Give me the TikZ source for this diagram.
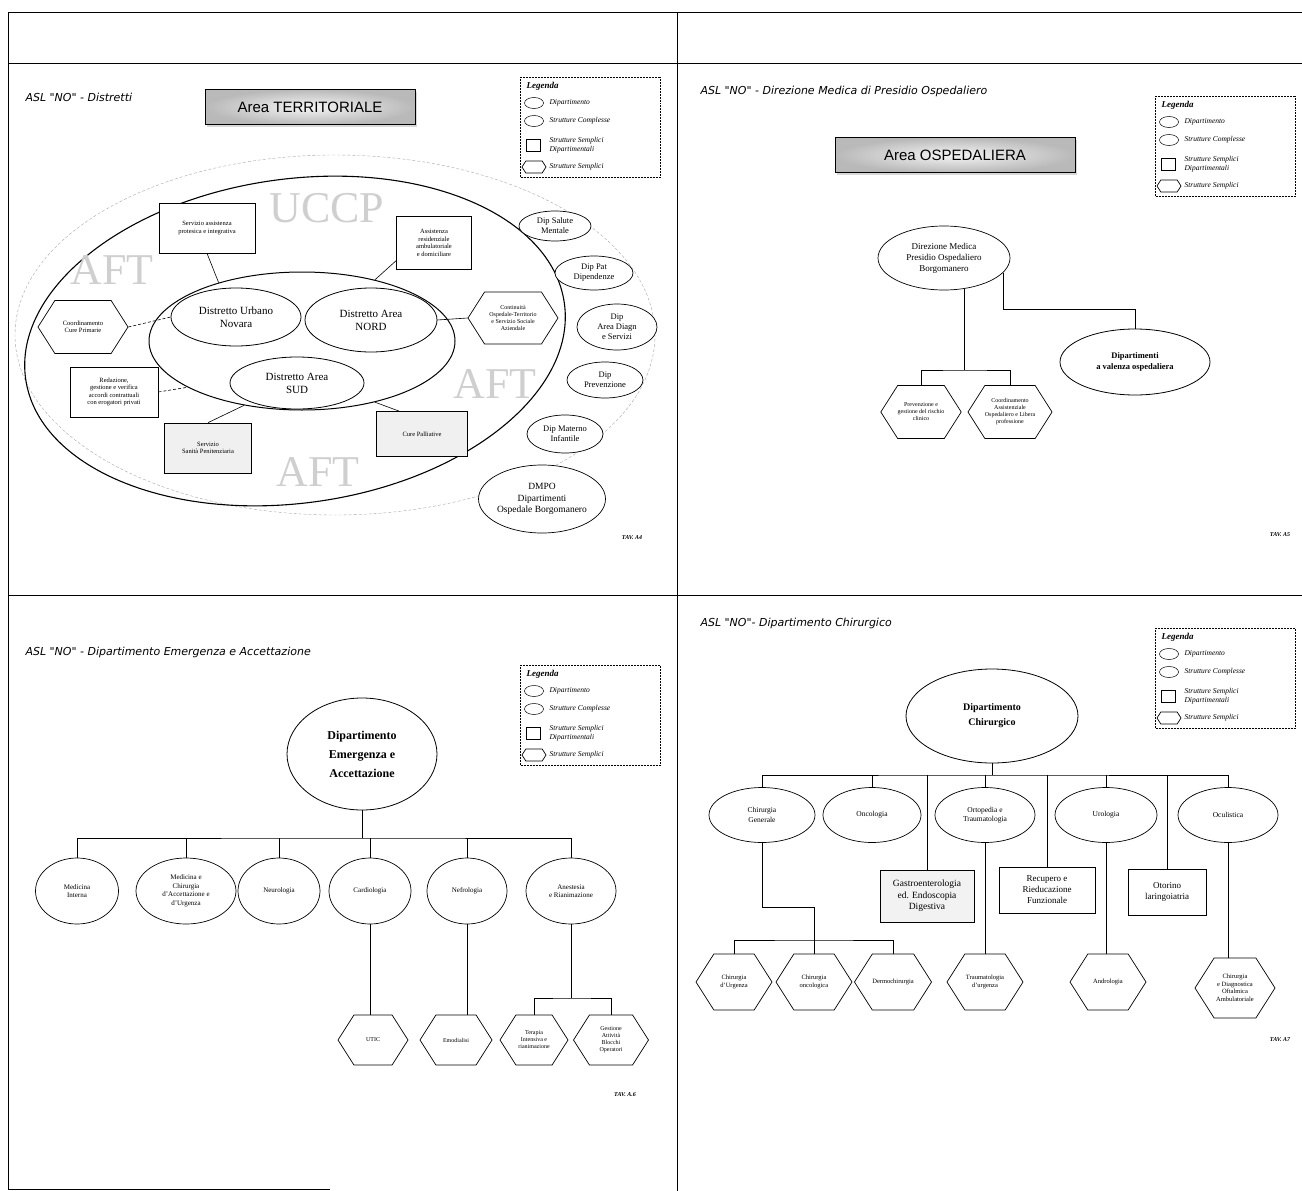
\documentclass[tikz,border=0pt]{standalone}
\usepackage{fontspec}
\setmainfont{Liberation Serif}
\newfontfamily\titlefont{DejaVu Sans}
\newfontfamily\arialfont{Liberation Sans}
\usetikzlibrary{shapes.geometric,shapes.symbols,shadows}

\begin{document}
\begin{tikzpicture}[x=1pt,y=-1pt,
  cornice/.style={line width=0.7pt},
  titolo/.style={anchor=west,font=\titlefont\itshape\fontsize{11}{13}\selectfont},
  tav/.style={font=\itshape\bfseries\fontsize{6}{7}\selectfont},
  areabox/.style={draw,line width=0.8pt,inner color=gray!8,outer color=gray!55,
    drop shadow={shadow xshift=2pt,shadow yshift=-2pt,fill=gray!60},
    font=\arialfont\fontsize{15}{18}\selectfont,minimum height=35},
  dip/.style={ellipse,draw,line width=0.8pt,fill=white,inner sep=0pt,align=center},
  sc/.style={ellipse,draw,line width=0.7pt,fill=white,inner sep=0pt,align=center,
    font=\fontsize{7}{8.5}\selectfont},
  ssd/.style={rectangle,draw,line width=0.7pt,fill=white,inner sep=1pt,align=center,
    font=\fontsize{6.5}{7.5}\selectfont},
  ss/.style={signal,signal to=west and east,signal pointer angle=115,draw,
    line width=0.7pt,fill=white,inner sep=0pt,align=center,font=\fontsize{6}{7}\selectfont},
  conn/.style={line width=0.6pt},
  vuoto/.style={text=gray!38,font=\fontsize{44}{44}\selectfont},
  leg/.style={anchor=west,font=\itshape\fontsize{7.5}{8.5}\selectfont,align=left},
  legenda/.pic={
    \draw[line width=0.5pt,densely dotted] (0,0) rectangle (140,100);
    \node[leg,font=\itshape\bfseries\fontsize{9}{10}\selectfont] (-tit) at (3,9) {Legenda};
    \node[ellipse,draw,line width=0.5pt,minimum width=19,minimum height=11,inner sep=0pt] (-e1) at (14,26) {};
    \node[leg] (-t1) at (26,26) {Dipartimento};
    \node[ellipse,draw,line width=0.5pt,minimum width=19,minimum height=11,inner sep=0pt] (-e2) at (14,44) {};
    \node[leg] (-t2) at (26,44) {Strutture Complesse};
    \node[rectangle,draw,line width=0.5pt,minimum width=14,minimum height=12,inner sep=0pt] (-e3) at (13,68) {};
    \node[leg] (-t3) at (26,68) {Strutture Semplici\\Dipartimentali};
    \node[ss,minimum width=24,minimum height=12] (-e4) at (14,90) {};
    \node[leg] (-t4) at (26,90) {Strutture Semplici};
  }]
  \useasboundingbox (0,0) rectangle (1302,1191);

  % cornice
  \draw[cornice] (8,12) -- (1302,12);
  \draw[cornice] (8,63) -- (1302,63);
  \draw[cornice] (8,595) -- (1302,595);
  \draw[cornice] (8,12) -- (8,1189) -- (330,1189);
  \draw[cornice] (677,12) -- (677,1191);

  % TAV. A4
  \node[titolo] (titA4) at (22,97) {ASL "NO" - Distretti};
  \node[areabox,minimum width=210] (areaT) at (310,107) {Area TERRITORIALE};
  \pic (legA4) at (520,77) {legenda};
  \node[ellipse,draw,gray!70,dash pattern=on 3pt off 2pt,minimum width=640,minimum height=360] (rete) at (335,335) {};
  \node[ellipse,draw,line width=1.1pt,rotate=8,minimum width=544,minimum height=324] (uccp) at (295,341) {};
  \node[vuoto] (tUCCP) at (327,208) {UCCP};
  \node[vuoto] (tAFT1) at (112,270) {AFT};
  \node[vuoto] (tAFT2) at (318,472) {AFT};
  \node[vuoto] (tAFT3) at (495,384) {AFT};
  \node[ellipse,draw,line width=1pt,minimum width=306,minimum height=138] (distretti) at (302,341) {};
  \node[dip,font=\fontsize{11}{13}\selectfont,minimum width=130,minimum height=58] (urbano) at (236,317) {Distretto Urbano\\Novara};
  \node[dip,font=\fontsize{11}{13}\selectfont,minimum width=132,minimum height=64] (nord) at (371,320) {Distretto Area\\NORD};
  \node[dip,font=\fontsize{11}{13}\selectfont,minimum width=134,minimum height=52] (sud) at (297,383) {Distretto Area\\SUD};
  \node[ssd,minimum width=96,minimum height=50] (protesica) at (207,228) {Servizio assistenza\\protesica e integrativa};
  \node[ssd,minimum width=75,minimum height=53] (residenziale) at (434,243) {Assistenza\\residenziale\\ambulatoriale\\e domiciliare};
  \node[ssd,minimum width=88,minimum height=50] (accordi) at (114,392) {Redazione,\\gestione e verifica\\accordi contrattuali\\con erogatori privati};
  \node[ssd,fill=gray!12,minimum width=87,minimum height=50] (penitenziaria) at (208,448) {Servizio\\Sanità Penitenziaria};
  \node[ssd,fill=gray!12,minimum width=91,minimum height=45] (palliative) at (422,434) {Cure Palliative};
  \node[ss,font=\fontsize{6.5}{7.5}\selectfont,minimum width=90,minimum height=53] (cureprimarie) at (83,327) {Coordinamento\\Cure Primarie};
  \node[ss,minimum width=90,minimum height=52] (continuita) at (513,318) {Continuità\\Ospedale-Territorio\\e Servizio Sociale\\Aziendale};
  \node[sc,font=\fontsize{8.5}{10}\selectfont,minimum width=72,minimum height=30] (dipSM) at (555,226) {Dip Salute\\Mentale};
  \node[sc,font=\fontsize{8.5}{10}\selectfont,minimum width=78,minimum height=34] (dipPD) at (594,273) {Dip Pat\\Dipendenze};
  \node[sc,font=\fontsize{8.5}{10}\selectfont,minimum width=80,minimum height=46] (dipAD) at (617,327) {Dip\\Area Diagn\\e Servizi};
  \node[sc,font=\fontsize{8.5}{10}\selectfont,minimum width=76,minimum height=36] (dipPR) at (605,380) {Dip\\Prevenzione};
  \node[sc,font=\fontsize{8.5}{10}\selectfont,minimum width=76,minimum height=38] (dipMI) at (565,434) {Dip Materno\\Infantile};
  \node[sc,font=\fontsize{9.5}{11.5}\selectfont,minimum width=120,minimum height=68] (dmpo) at (542,499) {DMPO\\Dipartimenti\\Ospedale Borgomanero};
  \draw[conn] (protesica.south) -- (distretti.145);
  \draw[conn] (residenziale.205) -- (distretti.40);
  \draw[conn,densely dashed] (cureprimarie.east) -- (urbano.west);
  \draw[conn,densely dashed] (accordi.east) -- (distretti.202);
  \draw[conn] (penitenziaria.north) -- (distretti.228);
  \draw[conn] (palliative.135) -- (distretti.320);
  \draw[conn] (continuita.west) -- (nord.east);
  \node[tav] (tavA4) at (632,538) {TAV. A4};

  % TAV. A5
  \node[titolo] (titA5) at (697,91) {ASL "NO" - Direzione Medica di Presidio Ospedaliero};
  \node[areabox,minimum width=240] (areaO) at (955,155) {Area OSPEDALIERA};
  \pic (legA5) at (1155,96) {legenda};
  \node[sc,font=\fontsize{9}{11}\selectfont,minimum width=132,minimum height=64] (dirmed) at (944,258) {Direzione Medica\\Presidio Ospedaliero\\Borgomanero};
  \node[ss,minimum width=78,minimum height=53] (rischio) at (921,412) {Prevenzione e\\gestione del rischio\\clinico};
  \node[ss,minimum width=82,minimum height=53] (libera) at (1010,412) {Coordinamento\\Assistenziale\\Ospedaliero e Libera\\professione};
  \node[dip,font=\bfseries\fontsize{8.5}{11}\selectfont,minimum width=150,minimum height=66] (dipval) at (1135,362) {Dipartimenti\\a valenza ospedaliera};
  \coordinate (nodoA) at (dirmed.-57 |- 0,370);
  \coordinate (nodoB) at (dirmed.-14 |- 0,309);
  \draw[conn] (dirmed.-57) -- (nodoA);
  \draw[conn] (rischio.north) |- (nodoA) -| (libera.north);
  \draw[conn] (dirmed.-14) -- (nodoB) -| (dipval.north);
  \node[tav] (tavA5) at (1280,535) {TAV. A5};

  % TAV. A6
  \node[titolo] (titA6) at (22,652) {ASL "NO" - Dipartimento Emergenza e Accettazione};
  \pic (legA6) at (520,665) {legenda};
  \node[dip,font=\bfseries\fontsize{12}{19}\selectfont,minimum width=150,minimum height=112] (dea) at (362,754) {Dipartimento\\Emergenza e\\Accettazione};
  \foreach \nome/\x/\w/\testo in {mi/77/83/{Medicina\\Interna},
      mcau/186/100/{Medicina e\\Chirurgia\\d'Accettazione e\\d'Urgenza},
      neuro/279/82/{Neurologia}, cardio/370/82/{Cardiologia},
      nefro/467/80/{Nefrologia}, anest/571/90/{Anestesia\\e Rianimazione}} {
    \node[sc,minimum width=\w,minimum height=66] (\nome) at (\x,891) {\testo};
  }
  \coordinate (barDEA) at (dea.south |- 0,838);
  \draw[conn] (dea.south) -- (barDEA);
  \draw[conn] (mi.north) |- (barDEA) -| (anest.north);
  \foreach \nome in {mcau,neuro,cardio,nefro}
    \draw[conn] (\nome.north) -- (\nome.north |- barDEA);
  \node[ss,minimum width=70,minimum height=50] (utic) at (373,1040) {UTIC};
  \node[ss,minimum width=72,minimum height=50] (emodialisi) at (456,1040) {Emodialisi};
  \node[ss,minimum width=68,minimum height=50] (terapia) at (534,1040) {Terapia\\Intensiva e\\rianimazione};
  \node[ss,minimum width=75,minimum height=50] (blocchi) at (611,1040) {Gestione\\Attività\\Blocchi\\Operatori};
  \draw[conn] (cardio.south) -- (cardio.south |- utic.north);
  \draw[conn] (nefro.south) -- (nefro.south |- emodialisi.north);
  \coordinate (barAR) at (anest.south |- 0,998);
  \draw[conn] (anest.south) -- (barAR);
  \draw[conn] (terapia.north) |- (barAR) -| (blocchi.north);
  \node[tav] (tavA6) at (625,1095) {TAV. A.6};

  % TAV. A7
  \node[titolo] (titA7) at (697,623) {ASL "NO"- Dipartimento Chirurgico};
  \pic (legA7) at (1155,628) {legenda};
  \node[dip,font=\bfseries\fontsize{10}{15}\selectfont,minimum width=172,minimum height=94] (chir) at (992,716) {Dipartimento\\Chirurgico};
  \foreach \nome/\x/\w/\testo in {cg/762/106/{Chirurgia\\Generale}, onco/872/98/{Oncologia},
      orto/985/100/{Ortopedia e\\Traumatologia}, uro/1106/102/{Urologia}, ocul/1228/100/{Oculistica}} {
    \node[sc,font=\fontsize{7.5}{9.5}\selectfont,minimum width=\w,minimum height=55] (\nome) at (\x,815) {\testo};
  }
  \coordinate (barCH) at (chir.south |- 0,775);
  \draw[conn] (chir.south) -- (barCH);
  \draw[conn] (cg.north) |- (barCH) -| (ocul.north);
  \foreach \nome in {onco,orto,uro}
    \draw[conn] (\nome.north) -- (\nome.north |- barCH);
  \node[ssd,fill=gray!10,font=\fontsize{9.5}{11.5}\selectfont,minimum width=94,minimum height=52] (gastro) at (927,896) {Gastroenterologia\\ed. Endoscopia\\Digestiva};
  \node[ssd,font=\fontsize{9}{11}\selectfont,minimum width=96,minimum height=46] (recupero) at (1047,890) {Recupero e\\Rieducazione\\Funzionale};
  \node[ssd,font=\fontsize{9}{11}\selectfont,minimum width=78,minimum height=46] (otorino) at (1167,892) {Otorino\\laringoiatria};
  \foreach \nome in {gastro,recupero,otorino}
    \draw[conn] (\nome.north) -- (\nome.north |- barCH);
  \foreach \nome/\x/\testo in {churg/734/{Chirurgia\\d'Urgenza}, chonco/814/{Chirurgia\\oncologica},
      dermo/893/{Dermochirurgia}, trauma/985/{Traumatologia\\d'urgenza}, andro/1108/{Andrologia}} {
    \node[ss,font=\fontsize{6.5}{7.5}\selectfont,minimum width=76,minimum height=56] (\nome) at (\x,982) {\testo};
  }
  \node[ss,font=\fontsize{6.5}{7.5}\selectfont,minimum width=80,minimum height=60] (oftal) at (1235,988) {Chirurgia\\e Diagnostica\\Oftalmica\\Ambulatoriale};
  \coordinate (gomitoCG) at (cg.south |- 0,907);
  \coordinate (barCG) at (chonco.north |- 0,940);
  \draw[conn] (cg.south) -- (gomitoCG) -| (barCG);
  \draw[conn] (churg.north) |- (barCG) -| (dermo.north);
  \draw[conn] (chonco.north) -- (barCG);
  \draw[conn] (orto.south) -- (orto.south |- trauma.north);
  \draw[conn] (uro.south) -- (uro.south |- andro.north);
  \draw[conn] (ocul.south) -- (ocul.south |- oftal.north);
  \node[tav] (tavA7) at (1280,1040) {TAV. A7};
\end{tikzpicture}
\end{document}
